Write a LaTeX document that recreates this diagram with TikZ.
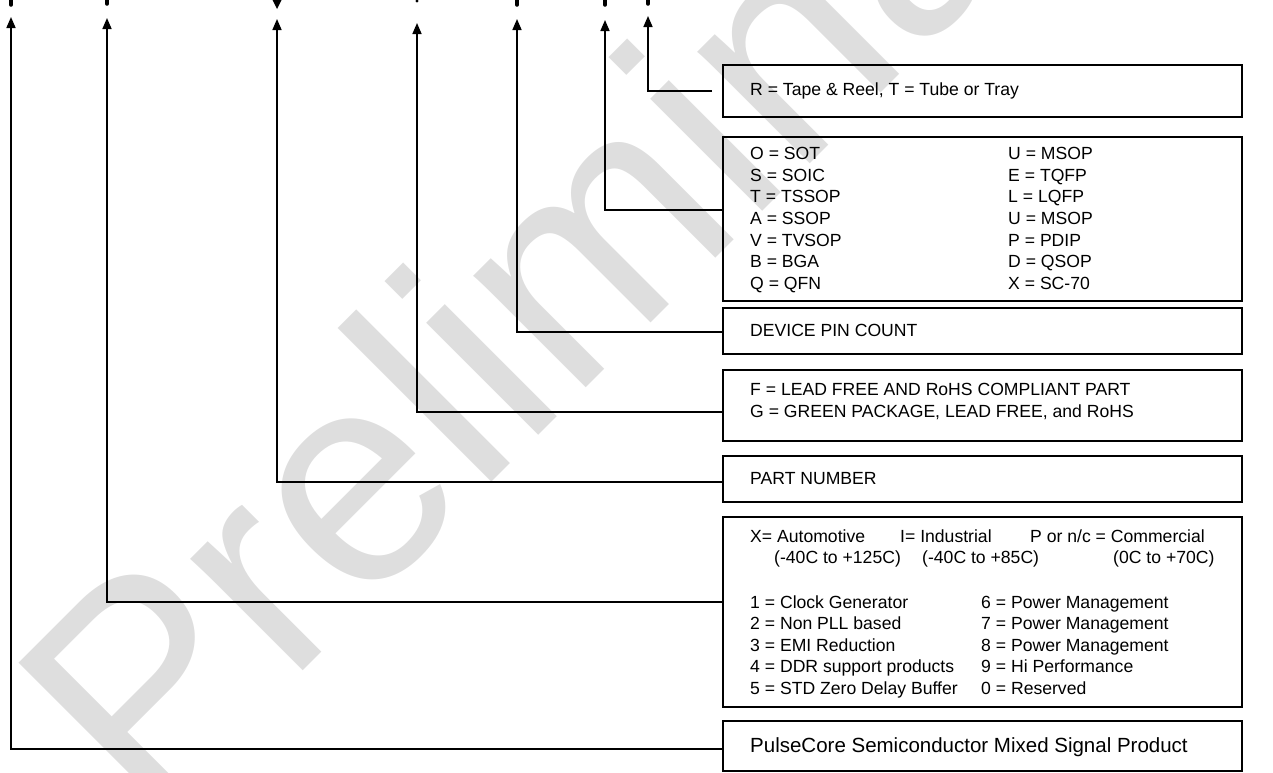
\documentclass[tikz,border=0pt]{standalone}
\usepackage{fontspec}
\setmainfont{Liberation Sans}
\usetikzlibrary{arrows.meta}
\begin{document}
\begin{tikzpicture}[x=1pt,y=-1pt,
  box/.style={draw=black,line width=1.6pt,minimum width=519pt,anchor=north west,inner sep=0pt},
  conn/.style={draw=black,line width=1.6pt,-{Triangle[width=9pt,length=11pt]}},
  lbl/.style={anchor=base west,inner sep=0pt,font=\fontsize{17.6}{21}\selectfont},
  biglbl/.style={anchor=base west,inner sep=0pt,font=\fontsize{20.5}{24}\selectfont},
  wm/.style={anchor=base west,inner sep=0pt,rotate=45,text=black!13,font=\fontsize{300}{300}\selectfont},
  tickstroke/.style={line width=3.5pt,line cap=round}
]
\useasboundingbox (0,0) rectangle (1273,772);
% watermark
\node[wm] (wmk) at (147,827) {Preliminary};
% boxes
\node[box,minimum height=52pt]  (b1) at (722,64) {};
\node[box,minimum height=164pt] (b2) at (722,136) {};
\node[box,minimum height=46pt]  (b3) at (722,307) {};
\node[box,minimum height=71pt]  (b4) at (722,369) {};
\node[box,minimum height=46pt]  (b5) at (722,455) {};
\node[box,minimum height=190pt] (b6) at (722,516) {};
\node[box,minimum height=50pt]  (b7) at (722,720) {};
% arrow tips
\coordinate (t1) at (11,17);
\coordinate (t2) at (107,18);
\coordinate (t3) at (277,19);
\coordinate (t4) at (417,23);
\coordinate (t5) at (517,19);
\coordinate (t6) at (605,20);
\coordinate (t7) at (648,16);
% connectors
\draw[conn] ([xshift=-10pt]b1.west) -| (t7);
\draw[conn] ([yshift=9pt]b2.west) -| (t6);
\draw[conn] ([yshift=-1pt]b3.west) -| (t5);
\draw[conn] ([yshift=-6.5pt]b4.west) -| (t4);
\draw[conn] ([yshift=-3pt]b5.west) -| (t3);
\draw[conn] ([yshift=10pt]b6.west) -| (t2);
\draw[conn] ([yshift=-3pt]b7.west) -| (t1);
% cut-off marks at top
\draw[tickstroke] (11,-3) -- (11,5);
\draw[tickstroke] (107,-3) -- (107,4);
\fill (272.5,0) -- (281.5,0) -- (277,9) -- cycle;
\fill (417,1) circle (1.6);
\draw[tickstroke] (517,-3) -- (517,5);
\draw[tickstroke] (605,-3) -- (605,5);
\draw[tickstroke] (648,-3) -- (648,4);
% box 1
\node[lbl] (r1) at (750,95.3) {R = Tape \& Reel, T = Tube or Tray};
% box 2
\foreach \a/\b [count=\i] in {O = SOT/U = MSOP, S = SOIC/E = TQFP, T = TSSOP/L = LQFP, A = SSOP/U = MSOP, V = TVSOP/P = PDIP, B = BGA/D = QSOP, Q = QFN/X = SC-70}{
  \node[lbl] (pl\i) at (750,{159.3+21.7*(\i-1)}) {\a};
  \node[lbl] (pr\i) at (1008,{159.3+21.7*(\i-1)}) {\b};
}
% box 3
\node[lbl] (dpc) at (750,336.3) {DEVICE PIN COUNT};
% box 4
\node[lbl] (lf1) at (750,395.3) {F = LEAD FREE AND RoHS COMPLIANT PART};
\node[lbl] (lf2) at (750,417.3) {G = GREEN PACKAGE, LEAD FREE, and RoHS};
% box 5
\node[lbl] (pn) at (750,484.3) {PART NUMBER};
% box 6
\node[lbl] (ta) at (750,542.3) {X= Automotive};
\node[lbl] (ti) at (900,542.3) {I= Industrial};
\node[lbl] (tc) at (1030,542.3) {P or n/c = Commercial};
\node[lbl] (ra) at (774,563.3) {(-40C to +125C)};
\node[lbl] (ri) at (922,563.3) {(-40C to +85C)};
\node[lbl] (rc) at (1113,563.3) {(0C to +70C)};
\foreach \a/\b [count=\i] in {1 = Clock Generator/6 = Power Management, 2 = Non PLL based/7 = Power Management, 3 = EMI Reduction/8 = Power Management, 4 = DDR support products/9 = Hi Performance, 5 = STD Zero Delay Buffer/0 = Reserved}{
  \node[lbl] (cl\i) at (750,{608.3+21.5*(\i-1)}) {\a};
  \node[lbl] (cr\i) at (981,{608.3+21.5*(\i-1)}) {\b};
}
% box 7
\node[biglbl] (pc) at (750,752) {PulseCore Semiconductor Mixed Signal Product};
\end{tikzpicture}
\end{document}
